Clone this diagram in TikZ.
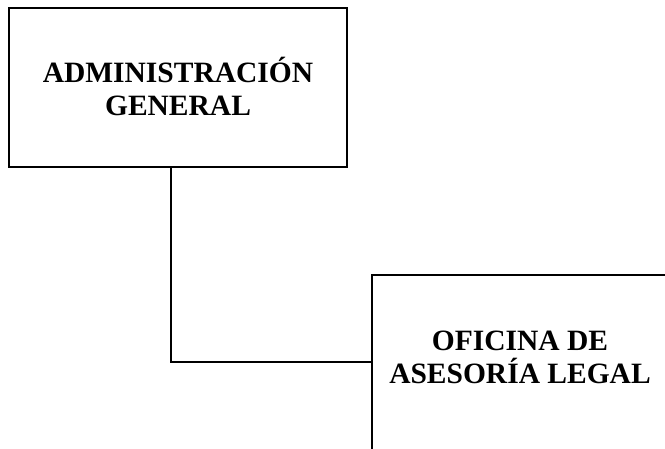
\documentclass[tikz,border=0pt]{standalone}
\usepackage{fontspec}
\setmainfont{Liberation Serif}
\usepackage{tikz}

\begin{document}
\begin{tikzpicture}[x=1pt, y=1pt]
\useasboundingbox (0,0) rectangle (665,-449);
\clip (0,0) rectangle (665,-449);

\coordinate (C_admin) at (178,-87.5);
\coordinate (C_legal) at (371,-274);
\coordinate (T_legal) at (520,-357);
\coordinate (K_elbow) at (171,-362);


\tikzset{BoxStyle/.style = {
 draw = black,
 line width = 2pt,
 fill = white,
 inner sep = 0pt} }

\tikzset{LabelStyle/.style = {
 align = center,
 text = black,
 inner sep = 0pt,
 font = \bfseries\fontsize{29.5}{33}\selectfont} }

\node[BoxStyle, minimum width=338pt, minimum height=159pt] (admin) at (C_admin) {};
\node[LabelStyle] (adminlbl) at ([yshift=1pt]admin.center) {ADMINISTRACIÓN\\GENERAL};

\node[BoxStyle, anchor=north west, minimum width=330pt, minimum height=220pt] (legal) at (C_legal) {};
\node[LabelStyle] (legallbl) at (T_legal) {OFICINA DE\\ASESORÍA LEGAL};


\tikzset{EdgeStyle/.style = {line width=2pt, line cap=rect} }

\draw[EdgeStyle] (admin.south -| K_elbow) -- (K_elbow) -- (K_elbow -| legal.west);

\end{tikzpicture}
\end{document}
